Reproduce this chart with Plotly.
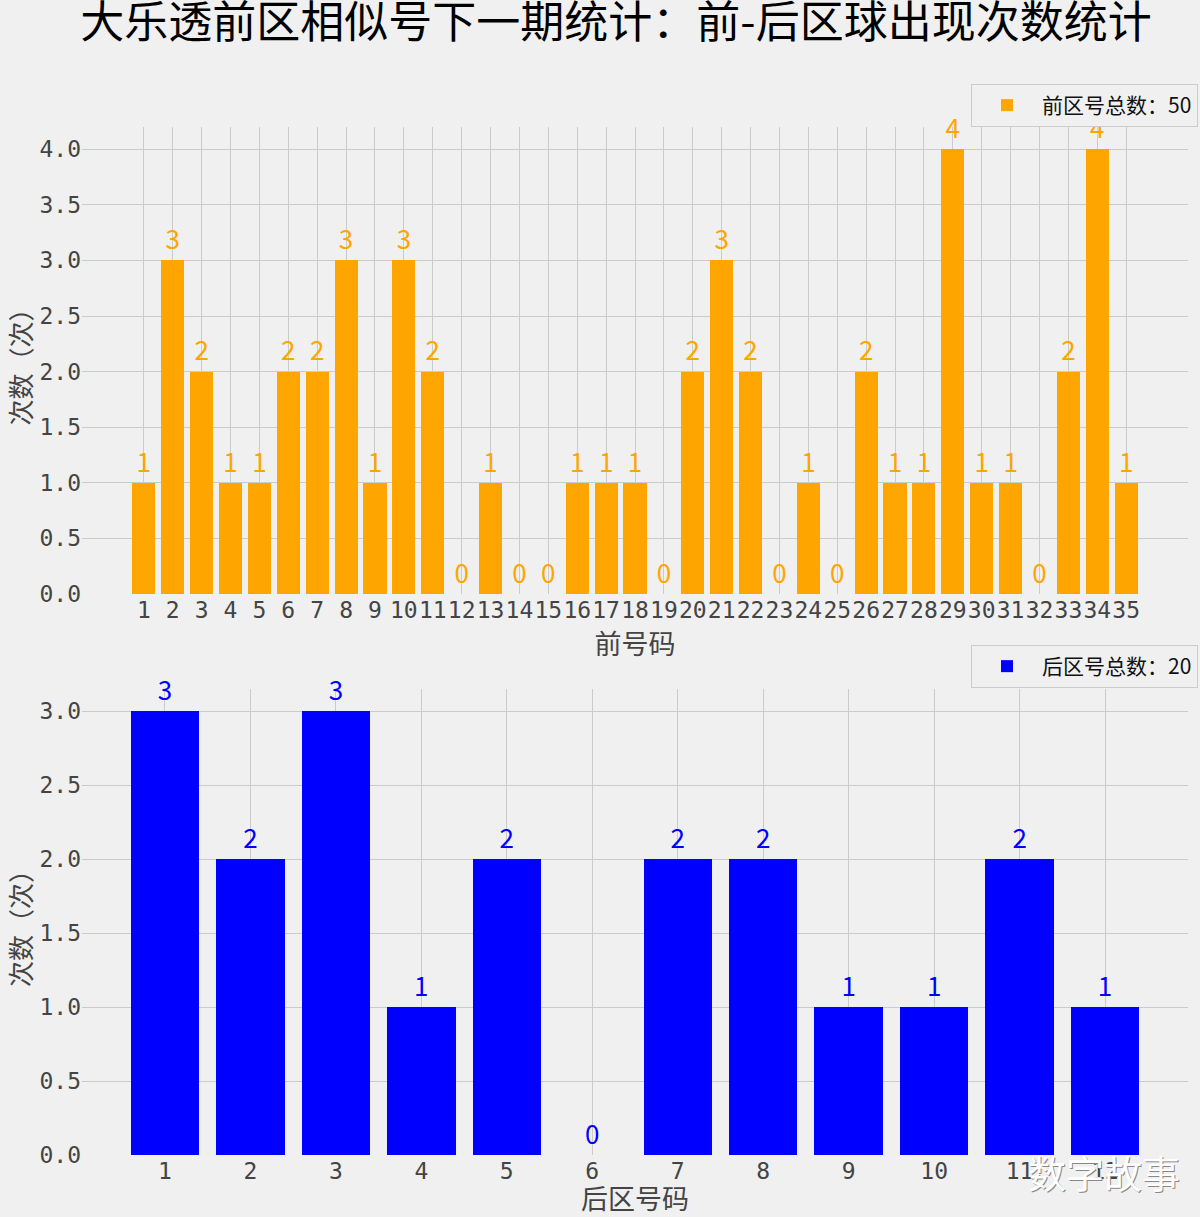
import plotly.graph_objects as go
from plotly.subplots import make_subplots

front_numbers = [str(i) for i in range(1, 36)]
front_counts = [1, 3, 2, 1, 1, 2, 2, 3, 1, 3, 2, 0, 1, 0, 0, 1, 1, 1, 0, 2,
                3, 2, 0, 1, 0, 2, 1, 1, 4, 1, 1, 0, 2, 4, 1]
back_numbers = [str(i) for i in range(1, 13)]
back_counts = [3, 2, 3, 1, 2, 0, 2, 2, 1, 1, 2, 1]

front_total = sum(front_counts)
back_total = sum(back_counts)

title_text = "大乐透前区相似号下一期统计：前-后区球出现次数统计"
front_xlabel = "前号码"
back_xlabel = "后区号码"
ylabel = "次数（次）"
front_legend = f"前区号总数：{front_total}"
back_legend = f"后区号总数：{back_total}"
watermark = "数字故事"

ORANGE = "#FFA500"
BLUE = "#0000FF"
BG = "#F0F0F0"
GRID = "#CBCBCB"
TICK_COLOR = "#444444"
CJK = "Noto Sans CJK SC"
MONO = "DejaVu Sans Mono"

W, H = 1200, 1217
L, R, T, B = 82, 12, 127, 62
plot_h = H - T - B
top_bottom_px = 594
bot_top_px = 689
top_dom = [(H - B - top_bottom_px) / plot_h, 1.0]
bot_dom = [0.0, (H - B - bot_top_px) / plot_h]

fig = make_subplots(rows=2, cols=1)

fx = [int(n) for n in front_numbers]
bx = [int(n) for n in back_numbers]

label_marker = dict(size=6, opacity=0)

fig.add_trace(go.Bar(x=fx, y=front_counts, width=0.8, marker=dict(color=ORANGE, line=dict(width=0)),
                     name=front_legend, legend="legend"), row=1, col=1)
fig.add_trace(go.Scatter(x=fx, y=front_counts, mode="markers+text", marker=label_marker,
                         text=[str(v) for v in front_counts],
                         textposition="top center", textfont=dict(color=ORANGE, size=26, family=CJK),
                         showlegend=False, cliponaxis=False, hoverinfo="skip"), row=1, col=1)
fig.add_trace(go.Bar(x=bx, y=back_counts, width=0.8, marker=dict(color=BLUE, line=dict(width=0)),
                     name=back_legend, legend="legend2"), row=2, col=1)
fig.add_trace(go.Scatter(x=bx, y=back_counts, mode="markers+text", marker=label_marker,
                         text=[str(v) for v in back_counts],
                         textposition="top center", textfont=dict(color=BLUE, size=26, family=CJK),
                         showlegend=False, cliponaxis=False, hoverinfo="skip"), row=2, col=1)

axis_common = dict(showgrid=True, gridcolor=GRID, gridwidth=1.3, zeroline=False, showline=False,
                   ticks="", tickangle=0, automargin=False,
                   tickfont=dict(family=MONO, size=23, color=TICK_COLOR))

fig.update_xaxes(**axis_common)
fig.update_yaxes(**axis_common)

fig.update_xaxes(row=1, col=1, range=[-1.14, 37.14], tickmode="array", tickvals=fx, ticktext=front_numbers,
                 domain=[0, 1],
                 title=dict(text=front_xlabel, standoff=1, font=dict(family=CJK, size=27, color=TICK_COLOR)))
fig.update_xaxes(row=2, col=1, range=[0.03, 12.97], tickmode="array", tickvals=bx, ticktext=back_numbers,
                 domain=[0, 1],
                 title=dict(text=back_xlabel, standoff=6, font=dict(family=CJK, size=27, color=TICK_COLOR)))
fig.update_yaxes(row=1, col=1, range=[0, 4.2], tickmode="array", tickvals=[i * 0.5 for i in range(9)],
                 tickformat=".1f", domain=top_dom,
                 title=dict(text=ylabel, standoff=0, font=dict(family=CJK, size=26, color=TICK_COLOR)))
fig.update_yaxes(row=2, col=1, range=[0, 3.15], tickmode="array", tickvals=[i * 0.5 for i in range(7)],
                 tickformat=".1f", domain=bot_dom,
                 title=dict(text=ylabel, standoff=0, font=dict(family=CJK, size=26, color=TICK_COLOR)))

legend_common = dict(bgcolor=BG, bordercolor="#CCCCCC", borderwidth=1,
                     font=dict(family=CJK, size=21, color="#111111"), xanchor="right", yanchor="top",
                     itemwidth=60)

fig.update_layout(
    width=W, height=H,
    margin=dict(l=L, r=R, t=T, b=B, autoexpand=False),
    paper_bgcolor=BG, plot_bgcolor=BG,
    bargap=0,
    title=dict(text=title_text, x=616 / W, xanchor="center", y=1 - 23 / H, yanchor="middle",
               font=dict(family=CJK, size=44, color="#000000")),
    legend=dict(x=(1198 - L) / (W - L - R), y=(H - B - 84) / plot_h, **legend_common),
    legend2=dict(x=(1198 - L) / (W - L - R), y=(H - B - 645) / plot_h, **legend_common),
    annotations=[
        dict(text=watermark, xref="paper", yref="paper", x=(1104 - L) / (W - L - R), y=(H - B - 1171) / plot_h,
             xanchor="center", yanchor="middle", showarrow=False,
             font=dict(family=CJK, size=38, color="#888888"), xshift=1, yshift=-1),
        dict(text=watermark, xref="paper", yref="paper", x=(1104 - L) / (W - L - R), y=(H - B - 1171) / plot_h,
             xanchor="center", yanchor="middle", showarrow=False,
             font=dict(family=CJK, size=38, color="#FFFFFF")),
    ],
)

fig.write_html(
    "out.html",
    config={"displayModeBar": False},
    post_script=("document.documentElement.style.margin='0';document.documentElement.style.padding='0';"
                 "document.documentElement.style.overflow='hidden';"
                 "document.body.style.margin='0';document.body.style.padding='0';"
                 "document.body.style.overflow='hidden';"),
)
